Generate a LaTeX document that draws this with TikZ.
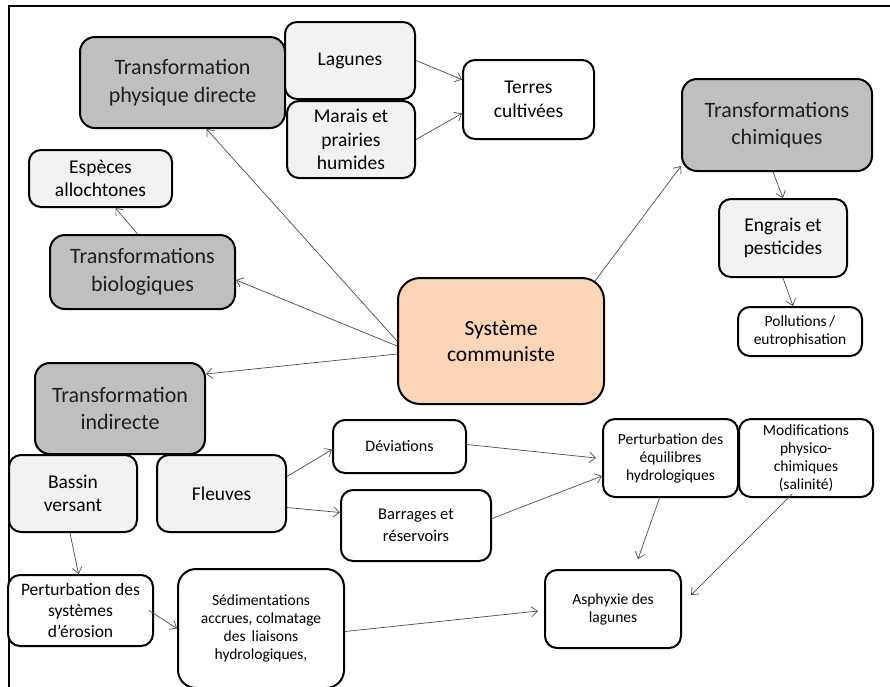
\documentclass[tikz,border=0pt]{standalone}
\usepackage{fontspec}
\setmainfont{Carlito}
\usetikzlibrary{arrows.meta}
\definecolor{boxgrey}{HTML}{BFBFBF}
\definecolor{boxlight}{HTML}{F2F2F2}
\definecolor{boxpeach}{HTML}{FBD5B5}

\begin{document}
\begin{tikzpicture}[
        x=1pt, y=-1pt,
        box/.style={
            draw,
            line width=2pt,
            rounded corners=12pt,
            fill=white,
            align=center,
            inner sep=2pt
        },
        grey/.style={box, fill=boxgrey, text=black!88, rounded corners=15pt,
            font=\fontsize{22}{27.5}\selectfont},
        light/.style={box, fill=boxlight, font=\fontsize{19.5}{23.5}\selectfont},
        plain/.style={box, font=\fontsize{15.5}{18}\selectfont},
        core/.style={box, fill=boxpeach, rounded corners=22pt,
            font=\fontsize{21.5}{26}\selectfont},
        link/.style={
            draw=black!70,
            line width=0.7pt,
            -{Straight Barb[length=6pt,width=10pt,line width=0.7pt]}
        }
    ]
    \useasboundingbox (0,0) rectangle (890,686);
    \draw[line width=2.5pt] (9,688) -- (9,6) -- (892,6);

    \node[core, minimum width=206pt, minimum height=126pt] (sys) at (501,341) {Système\\communiste};

    \node[grey, minimum width=205pt, minimum height=91pt] (tpd) at (182.5,82.5) {Transformation\\physique directe};
    \node[light, minimum width=130pt, minimum height=77pt] (lag) at (350,60.5) {Lagunes};
    \node[light, minimum width=128pt, minimum height=77pt] (mar) at (351,139.5) {Marais et\\prairies\\humides};
    \node[box, font=\fontsize{19.5}{23.5}\selectfont, minimum width=131pt, minimum height=79pt] (ter) at (528.5,99.5) {Terres\\cultivées};

    \node[grey, minimum width=190pt, minimum height=92pt] (chi) at (777,125) {Transformations\\chimiques};
    \node[light, minimum width=128pt, minimum height=78pt] (eng) at (783,238) {Engrais et\\pesticides};
    \node[plain, minimum width=124pt, minimum height=49pt] (pol) at (800,331.5) {Pollutions\,/\\eutrophisation};

    \node[light, minimum width=143pt, minimum height=57pt] (esp) at (100.5,178.5) {Espèces\\allochtones};
    \node[grey, minimum width=185pt, minimum height=74pt] (bio) at (142.5,272) {Transformations\\biologiques};

    \node[grey, minimum width=170pt, minimum height=91pt] (ind) at (120,408.5) {Transformation\\indirecte};
    \node[light, minimum width=128pt, minimum height=77pt] (bas) at (73,493.5) {Bassin\\versant};
    \node[light, minimum width=129pt, minimum height=77pt] (fle) at (221.5,493.5) {Fleuves};
    \node[plain, font=\fontsize{16}{19}\selectfont, minimum width=133pt, minimum height=53pt] (dev) at (399.5,446.5) {Déviations};
    \node[plain, font=\fontsize{16.5}{21.5}\selectfont, minimum width=150pt, minimum height=71pt] (bar) at (416,525.5) {Barrages et\\réservoirs};
    \node[plain, minimum width=135pt, minimum height=78pt] (peq) at (670.5,458) {Perturbation des\\équilibres\\hydrologiques};
    \node[plain, minimum width=134pt, minimum height=78pt] (mod) at (806,458) {Modifications\\physico-\\chimiques\\(salinité)};
    \node[plain, font=\fontsize{17.5}{21}\selectfont, minimum width=145pt, minimum height=71pt] (per) at (80.5,610.5) {Perturbation des\\systèmes\\d’érosion};
    \node[plain, rounded corners=18pt, minimum width=166pt, minimum height=119pt] (sed) at (261,628.5) {Sédimentations\\accrues, colmatage\\des\, liaisons\\hydrologiques,};
    \node[plain, minimum width=136pt, minimum height=78pt] (asp) at (613,609) {Asphyxie des\\lagunes};

    \draw[link] (lag.east) -- ([yshift=20pt]ter.west);
    \draw[link] (mar.east) -- ([yshift=-14pt]ter.west);
    \draw[link] (sys.west) -- ([xshift=24pt]tpd.south);
    \draw[link] ([yshift=-5pt]sys.west) -- ([yshift=-8pt]bio.east);
    \draw[link] ([yshift=-13pt]sys.west) -- ([yshift=-12pt]ind.north east);
    \draw[link] ([xshift=-10pt,yshift=-4pt]sys.north east) -- ([yshift=6pt]chi.south west);
    \draw[link] ([xshift=-4pt]chi.south) -- (eng.north);
    \draw[link] (eng.south) -- ([xshift=-7pt]pol.north);
    \draw[link] ([xshift=-5pt]bio.north) -- ([xshift=15pt]esp.south);
    \draw[link] ([yshift=17pt]fle.east) -- ([yshift=-3pt]dev.west);
    \draw[link] ([yshift=-14pt]fle.east) -- ([yshift=13pt]bar.west);
    \draw[link] ([yshift=2pt]dev.east) -- ([xshift=-6pt]peq.west);
    \draw[link] ([yshift=7pt]bar.east) -- ([yshift=-18pt]peq.west);
    \draw[link] ([xshift=-11pt]peq.south) -- ([xshift=25pt,yshift=10pt]asp.north);
    \draw[link] ([xshift=-14pt,yshift=4pt]mod.south) -- ([xshift=9pt,yshift=14pt]asp.east);
    \draw[link] ([xshift=-3pt]bas.south) -- ([xshift=-2pt]per.north);
    \draw[link] ([xshift=-5pt]per.east) -- (sed.west);
    \draw[link] ([yshift=-3pt]sed.east) -- ([xshift=-6pt,yshift=-2pt]asp.west);
\end{tikzpicture}
\end{document}
